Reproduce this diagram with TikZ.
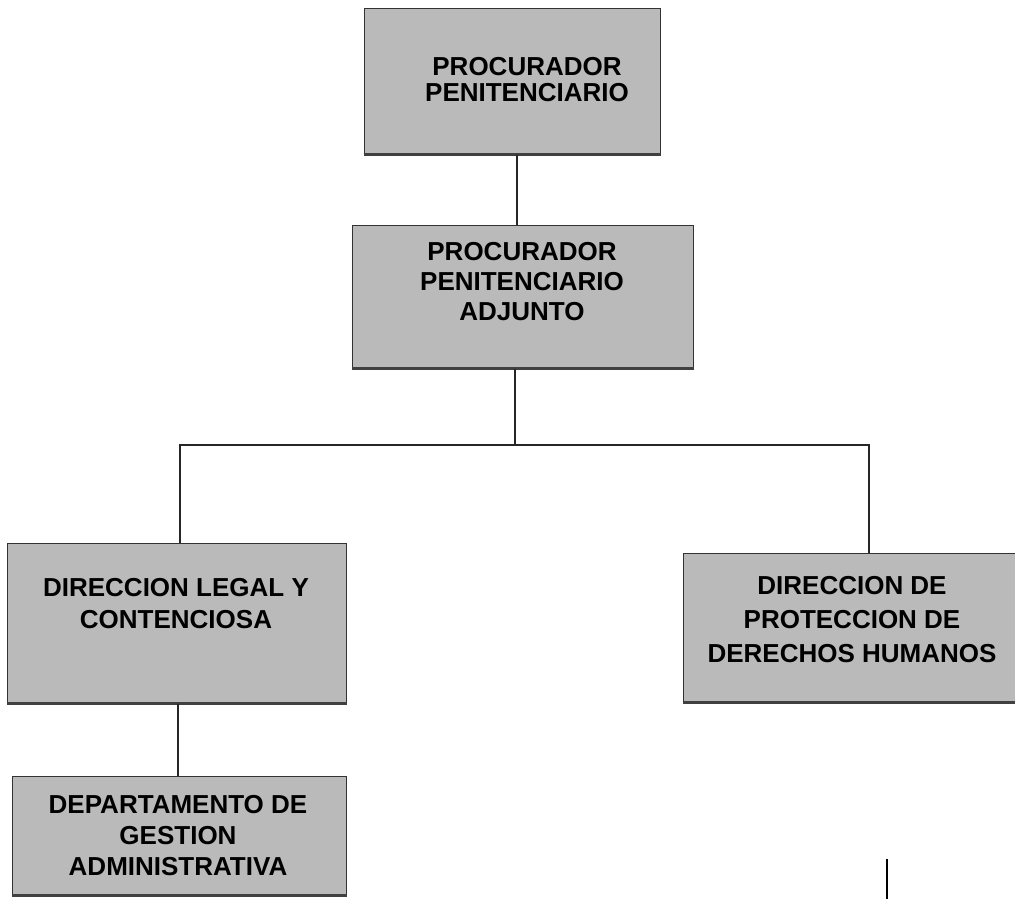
\documentclass[tikz,border=0pt]{standalone}
\usepackage{fontspec}
\setmainfont{Liberation Sans}
\tikzset{
  box/.style={draw=black!80, line width=1pt, fill=black!27, rectangle, inner sep=0pt},
  lbl/.style={font=\bfseries\fontsize{26}{#1}\selectfont, align=center, text=black, inner sep=0pt},
  link/.style={draw=black!85, line width=1.6pt},
  shadeline/.style={line width=2.6pt, draw=black!75},
}
\begin{document}
\begin{tikzpicture}[x=1pt,y=-1pt]
\useasboundingbox (0,0) rectangle (1015,899);
\clip (0,0) rectangle (1015,899);
% boxes
\node[box, minimum width=296, minimum height=145] (b1) at (512,81.5) {};
\node[box, minimum width=341, minimum height=143] (b2) at (522.5,296.5) {};
\node[box, minimum width=339, minimum height=160] (b3) at (176.5,623) {};
\node[box, minimum width=372, minimum height=149] (b4) at (869,627.5) {};
\node[box, minimum width=334, minimum height=119] (b5) at (179,835.5) {};
% darker bottom edges
\foreach \b in {b1,b2,b3,b4,b5}{
  \draw[shadeline] (\b.south west) -- (\b.south east);
}
% labels
\node[lbl=26] (t1) at (527,80) {PROCURADOR\\PENITENCIARIO};
\node[lbl=30] (t2) at (522,282) {PROCURADOR\\PENITENCIARIO\\ADJUNTO};
\node[lbl=32] (t3) at (176,604) {DIRECCION LEGAL Y\\CONTENCIOSA};
\node[lbl=34] (t4) at (852,620) {DIRECCION DE\\PROTECCION DE\\DERECHOS HUMANOS};
\node[lbl=31] (t5) at (178,836) {DEPARTAMENTO DE\\GESTION\\ADMINISTRATIVA};
% connectors
\coordinate (x1) at (517,0);
\coordinate (j2) at (515,445);
\coordinate (jl) at (180,445);
\coordinate (jr) at (869,445);
\coordinate (x5) at (178,0);
\draw[link] (x1 |- b1.south) -- (x1 |- b2.north);
\draw[link] (j2 |- b2.south) -- (j2);
\draw[link] (jl |- b3.north) -- (jl) -- (jr) -- (jr |- b4.north);
\draw[link] (x5 |- b3.south) -- (x5 |- b5.north);
% stray mark
\coordinate (s1) at (887,859);
\coordinate (s2) at (887,899);
\draw[line width=2pt] (s1) -- (s2);
\end{tikzpicture}
\end{document}
